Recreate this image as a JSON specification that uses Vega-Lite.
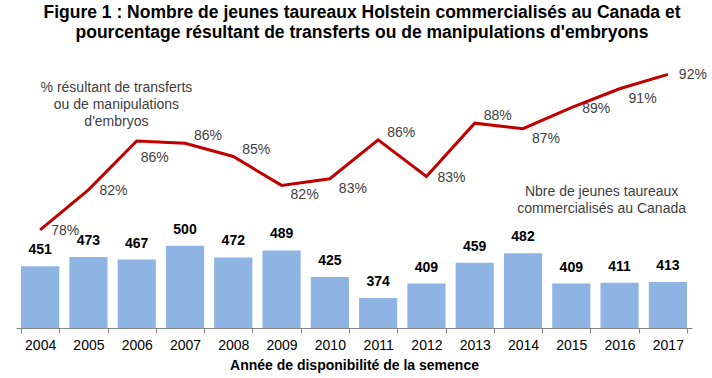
{
  "$schema": "https://vega.github.io/schema/vega-lite/v6.json",
  "width": 676,
  "height": 273,
  "autosize": {"type": "none"},
  "padding": {"left": 16, "right": 20, "top": 55, "bottom": 50},
  "background": "white",
  "config": {
    "view": {"stroke": null},
    "font": "Liberation Sans"
  },
  "title": {
    "text": ["Figure 1 : Nombre de jeunes taureaux Holstein commercialisés au Canada et", "pourcentage résultant de transferts ou de manipulations d'embryons"],
    "font": "Liberation Sans",
    "fontSize": 17.5,
    "fontWeight": "bold",
    "color": "#000000",
    "lineHeight": 19.5,
    "anchor": "middle",
    "frame": "group",
    "dx": 8,
    "offset": 14
  },
  "datasets": {
    "main": [
      {"year": "2004", "count": 451, "pct": 0.780},
      {"year": "2005", "count": 473, "pct": 0.816},
      {"year": "2006", "count": 467, "pct": 0.860},
      {"year": "2007", "count": 500, "pct": 0.858},
      {"year": "2008", "count": 472, "pct": 0.846},
      {"year": "2009", "count": 489, "pct": 0.820},
      {"year": "2010", "count": 425, "pct": 0.826},
      {"year": "2011", "count": 374, "pct": 0.861},
      {"year": "2012", "count": 409, "pct": 0.828},
      {"year": "2013", "count": 459, "pct": 0.876},
      {"year": "2014", "count": 482, "pct": 0.871},
      {"year": "2015", "count": 409, "pct": 0.890},
      {"year": "2016", "count": 411, "pct": 0.907},
      {"year": "2017", "count": 413, "pct": 0.920}
    ],
    "annPct": [
      {"year": "2005", "pct": 0.9080, "lines": ["% résultant de transferts", "ou de manipulations", "d'embryos"]}
    ],
    "annCount": [
      {"year": "2016", "count": 630, "lines": ["Nbre de jeunes taureaux", "commercialisés au Canada"]}
    ]
  },
  "data": {"name": "main"},
  "encoding": {
    "x": {
      "field": "year",
      "type": "ordinal",
      "scale": {"paddingInner": 0.21, "paddingOuter": 0.105},
      "axis": {
        "title": "Année de disponibilité de la semence",
        "titleFont": "Liberation Sans",
        "titleFontSize": 14,
        "titleFontWeight": "bold",
        "titleColor": "#000000",
        "titlePadding": 6,
        "labelFont": "Liberation Sans",
        "labelFontSize": 14,
        "labelColor": "#000000",
        "labelAngle": 0,
        "labelPadding": 5,
        "domainColor": "#868686",
        "tickColor": "#868686",
        "tickSize": 5,
        "tickBand": "extent",
        "grid": false
      }
    }
  },
  "layer": [
    {
      "encoding": {
        "y": {"type": "quantitative", "scale": {"domain": [302, 959.8], "zero": false, "nice": false}, "axis": null}
      },
      "layer": [
        {
          "mark": {"type": "bar", "color": "#8DB4E2"},
          "encoding": {
            "y": {"field": "count", "type": "quantitative"},
            "y2": {"datum": 302}
          }
        },
        {
          "mark": {"type": "text", "baseline": "bottom", "dy": -9, "fontSize": 14, "fontWeight": "bold", "color": "#000000", "font": "Liberation Sans"},
          "encoding": {
            "y": {"field": "count", "type": "quantitative"},
            "text": {"field": "count", "type": "quantitative"}
          }
        },
        {
          "data": {"name": "annCount"},
          "mark": {"type": "text", "baseline": "middle", "align": "center", "dx": -18, "fontSize": 14, "lineHeight": 17, "color": "#404040", "font": "Liberation Sans"},
          "encoding": {
            "y": {"field": "count", "type": "quantitative"},
            "text": {"field": "lines", "type": "nominal"}
          }
        }
      ]
    },
    {
      "encoding": {
        "y": {"type": "quantitative", "scale": {"domain": [0.6916, 0.9374], "zero": false, "nice": false}, "axis": null}
      },
      "layer": [
        {
          "mark": {"type": "line", "color": "#C00000", "strokeWidth": 3},
          "encoding": {
            "y": {"field": "pct", "type": "quantitative"}
          }
        },
        {
          "transform": [{"filter": {"field": "year", "oneOf": ["2004", "2005", "2012", "2015", "2017"]}}],
          "mark": {"type": "text", "baseline": "middle", "align": "center", "dx": 25, "dy": 1, "fontSize": 14, "color": "#404040", "font": "Liberation Sans"},
          "encoding": {
            "y": {"field": "pct", "type": "quantitative"},
            "text": {"field": "pct", "type": "quantitative", "format": ".0%"}
          }
        },
        {
          "transform": [{"filter": {"field": "year", "oneOf": ["2009", "2010", "2014", "2016"]}}],
          "mark": {"type": "text", "baseline": "middle", "align": "center", "dx": 23, "dy": 10, "fontSize": 14, "color": "#404040", "font": "Liberation Sans"},
          "encoding": {
            "y": {"field": "pct", "type": "quantitative"},
            "text": {"field": "pct", "type": "quantitative", "format": ".0%"}
          }
        },
        {
          "transform": [{"filter": {"field": "year", "oneOf": ["2006"]}}],
          "mark": {"type": "text", "baseline": "middle", "align": "center", "dx": 18, "dy": 17, "fontSize": 14, "color": "#404040", "font": "Liberation Sans"},
          "encoding": {
            "y": {"field": "pct", "type": "quantitative"},
            "text": {"field": "pct", "type": "quantitative", "format": ".0%"}
          }
        },
        {
          "transform": [{"filter": {"field": "year", "oneOf": ["2007", "2008", "2011", "2013"]}}],
          "mark": {"type": "text", "baseline": "middle", "align": "center", "dx": 23, "dy": -7, "fontSize": 14, "color": "#404040", "font": "Liberation Sans"},
          "encoding": {
            "y": {"field": "pct", "type": "quantitative"},
            "text": {"field": "pct", "type": "quantitative", "format": ".0%"}
          }
        },
        {
          "data": {"name": "annPct"},
          "mark": {"type": "text", "baseline": "middle", "align": "center", "dx": 28, "fontSize": 14, "lineHeight": 17, "color": "#404040", "font": "Liberation Sans"},
          "encoding": {
            "y": {"field": "pct", "type": "quantitative"},
            "text": {"field": "lines", "type": "nominal"}
          }
        }
      ]
    }
  ],
  "resolve": {"scale": {"y": "independent"}}
}
